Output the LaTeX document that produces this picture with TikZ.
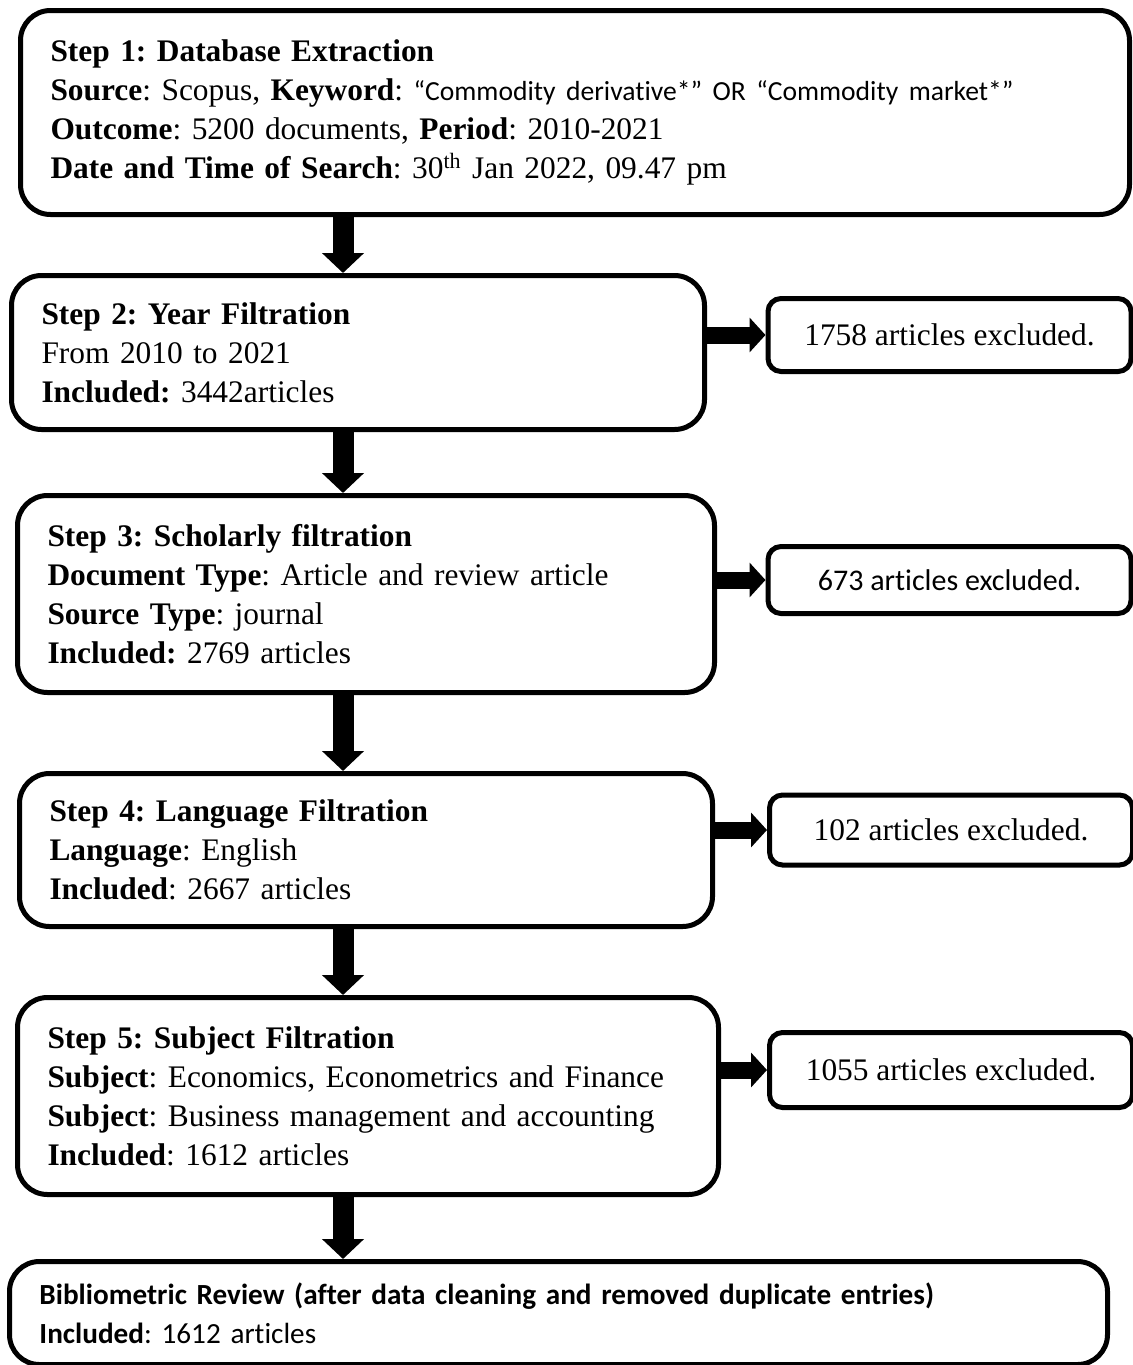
\documentclass[tikz,border=0pt]{standalone}
\usepackage{fontspec}
\setmainfont{Liberation Serif}
\newfontfamily\calibri[Ligatures=NoCommon]{Carlito}
\usetikzlibrary{arrows.meta,positioning}
\frenchspacing

\tikzset{
  stepbox/.style={draw,line width=2.5pt,rounded corners=15pt,anchor=north west,
    align=left,inner xsep=15pt,font=\fontsize{15.7}{19.5}\selectfont},
  exclbox/.style={draw,line width=2.5pt,rounded corners=6.5pt,minimum width=181.5pt,
    align=center,font=\fontsize{15.7}{19.5}\selectfont},
  flowdown/.style={line width=10.5pt,-{Triangle[width=20.5pt,length=10pt]}},
  flowright/.style={line width=8.5pt,-{Triangle[width=17pt,length=8pt]}}
}

\begin{document}
\begin{tikzpicture}[x=0.5pt,y=-0.5pt]
  \useasboundingbox (0,0) rectangle (1133,1365);

  % main steps
  \node[stepbox,text width=524.5pt,minimum height=102pt] (db) at (18,8)
    {\textbf{Step 1: Database Extraction}\\
     \textbf{Source}: Scopus, \textbf{Keyword}: {\calibri\fontsize{13.8}{19.5}\selectfont “Commodity derivative*” OR “Commodity market*”}\\
     \textbf{Outcome}: 5200 documents, \textbf{Period}: 2010-2021\\
     \textbf{Date and Time of Search}: 30\textsuperscript{th} Jan 2022, 09.47 pm};
  \node[stepbox,text width=316.5pt,minimum height=77pt] (year) at (9,273)
    {\textbf{Step 2: Year Filtration}\\
     From 2010 to 2021\\
     \textbf{Included:} 3442articles};
  \node[stepbox,text width=318.5pt,minimum height=98.5pt] (scholar) at (15,493)
    {\textbf{Step 3: Scholarly filtration}\\
     \textbf{Document Type}: Article and review article\\
     \textbf{Source Type}: journal\\
     \textbf{Included:} 2769 articles};
  \node[stepbox,text width=316.5pt,minimum height=76.5pt] (lang) at (17,771)
    {\textbf{Step 4: Language Filtration}\\
     \textbf{Language}: English\\
     \textbf{Included}: 2667 articles};
  \node[stepbox,text width=320.5pt,minimum height=98.5pt] (subj) at (15,995)
    {\textbf{Step 5: Subject Filtration}\\
     \textbf{Subject}: Economics, Econometrics and Finance\\
     \textbf{Subject}: Business management and accounting\\
     \textbf{Included}: 1612 articles};
  \node[stepbox,text width=519pt,minimum height=51.5pt,
        font=\calibri\fontsize{14.6}{19.5}\selectfont] (biblio) at (7,1259)
    {\textbf{Bibliometric Review (after data cleaning and removed duplicate entries)}\\
     \textbf{Included}: 1612 articles};

  % excluded counts
  \node[exclbox,minimum height=36.5pt] (ex2) at (949.5,335) {1758 articles excluded.};
  \node[exclbox,minimum height=33.5pt,font=\calibri\fontsize{15}{18}\selectfont] (ex3) at (949.5,580)
    {673 articles excluded.};
  \node[exclbox,minimum height=35pt] (ex4) at (951,830) {102 articles excluded.};
  \node[exclbox,minimum height=37.5pt] (ex5) at (951,1070) {1055 articles excluded.};

  % arrows
  \coordinate (spine) at (343,0);
  \draw[flowdown] (db.south -| spine) -- (year.north -| spine);
  \draw[flowdown] (year.south -| spine) -- (scholar.north -| spine);
  \draw[flowdown] (scholar.south -| spine) -- (lang.north -| spine);
  \draw[flowdown] (lang.south -| spine) -- (subj.north -| spine);
  \draw[flowdown] (subj.south -| spine) -- (biblio.north -| spine);
  \draw[flowright] (year.east |- ex2.west) -- (ex2.west);
  \draw[flowright] (scholar.east |- ex3.west) -- (ex3.west);
  \draw[flowright] (lang.east |- ex4.west) -- (ex4.west);
  \draw[flowright] (subj.east |- ex5.west) -- (ex5.west);
\end{tikzpicture}
\end{document}
